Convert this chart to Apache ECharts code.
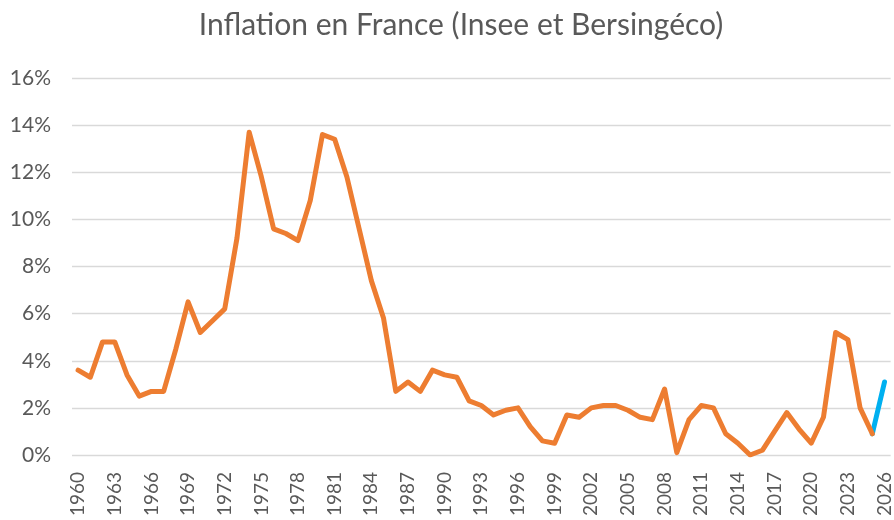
<!DOCTYPE html>
<html>
<head>
<meta charset="utf-8">
<script src="https://cdn.jsdelivr.net/npm/echarts@6/dist/echarts.min.js"></script>
<style>html,body{margin:0;padding:0;background:#fff}#c{width:894px;height:520px}</style>
</head>
<body>
<div id="c"></div>
<script>
var years = ['1960','1961','1962','1963','1964','1965','1966','1967','1968','1969',
'1970','1971','1972','1973','1974','1975','1976','1977','1978','1979',
'1980','1981','1982','1983','1984','1985','1986','1987','1988','1989',
'1990','1991','1992','1993','1994','1995','1996','1997','1998','1999',
'2000','2001','2002','2003','2004','2005','2006','2007','2008','2009',
'2010','2011','2012','2013','2014','2015','2016','2017','2018','2019',
'2020','2021','2022','2023','2024','2025','2026'];
var inseeValues = [3.6,3.3,4.8,4.8,3.4,2.5,2.7,2.7,4.5,6.5,
5.2,5.7,6.2,9.2,13.7,11.8,9.6,9.4,9.1,10.8,
13.6,13.4,11.8,9.6,7.4,5.8,2.7,3.1,2.7,3.6,
3.4,3.3,2.3,2.1,1.7,1.9,2.0,1.2,0.6,0.5,
1.7,1.6,2.0,2.1,2.1,1.9,1.6,1.5,2.8,0.1,
1.5,2.1,2.0,0.9,0.5,0.0,0.2,1.0,1.8,1.1,
0.5,1.6,5.2,4.9,2.0,0.9,null];
var forecastValues = [null,null,null,null,null,null,null,null,null,null,
null,null,null,null,null,null,null,null,null,null,
null,null,null,null,null,null,null,null,null,null,
null,null,null,null,null,null,null,null,null,null,
null,null,null,null,null,null,null,null,null,null,
null,null,null,null,null,null,null,null,null,null,
null,null,null,null,null,0.9,3.1];
var yTicks = [0,2,4,6,8,10,12,14,16];
var titleText = 'Inflation en France (Insee et Bersingéco)';

var chart = echarts.init(document.getElementById('c'), null, {renderer:'canvas'});
var FONT = 'Lato';
chart.setOption({
  animation: false,
  title: {
    text: titleText,
    left: 456, top: 5, textAlign: 'center',
    textStyle: {fontFamily: FONT, fontSize: 30, fontWeight: 'normal', color: '#595959'}
  },
  grid: {left: 72, right: 0, top: 78, bottom: 65, containLabel: false},
  xAxis: {
    type: 'category', data: years, boundaryGap: true,
    axisLine: {show: false}, axisTick: {show: false},
    axisLabel: {interval: 2, rotate: 90, margin: 17, fontFamily: FONT, fontSize: 19, color: '#595959'}
  },
  yAxis: {
    type: 'value', min: yTicks[0], max: yTicks[yTicks.length-1], interval: 2,
    axisLine: {show: false}, axisTick: {show: false},
    splitLine: {lineStyle: {color: '#d9d9d9', width: 1.3}},
    axisLabel: {formatter: '{value}%', margin: 21, fontFamily: FONT, fontSize: 21, color: '#595959'}
  },
  series: [
    {type: 'line', name: 'Bersingéco', data: forecastValues, symbol: 'none', connectNulls: false,
     lineStyle: {color: '#00B0F0', width: 5, cap: 'round', join: 'round'}, z: 2},
    {type: 'line', name: 'Insee', data: inseeValues, symbol: 'none', connectNulls: false,
     lineStyle: {color: '#ED7D31', width: 5, cap: 'round', join: 'round'}, z: 3}
  ]
});
</script>
</body>
</html>
